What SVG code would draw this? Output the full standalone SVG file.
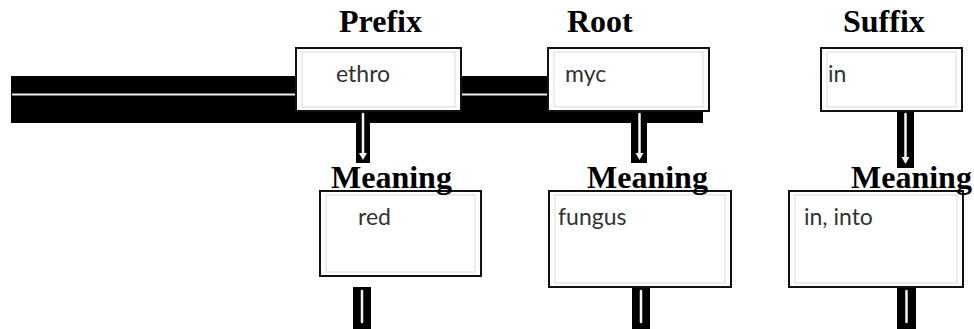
<svg xmlns="http://www.w3.org/2000/svg" width="974" height="329" viewBox="0 0 974 329">
  <style>
    .head { font-family: "Liberation Serif", "Times New Roman", serif; font-weight: bold; font-size: 32px; fill: #000; }
    .word { font-family: Lato, "Liberation Sans", sans-serif; font-size: 23px; fill: #333; }
    .box { fill: #fff; stroke: #111; stroke-width: 2; }
    .inner { fill: none; stroke: #e6e6e6; stroke-width: 1.5; }
    .shaft { fill: #000; }
    .line { stroke: #f4f4f4; stroke-width: 2.5; stroke-linecap: round; }
    .tip { fill: #f4f4f4; }
  </style>

  <!-- dark band behind the top row -->
  <g id="band">
    <rect x="11" y="76" width="692" height="47" fill="#000"/>
    <line x1="12" y1="94.5" x2="548" y2="94.5" stroke="#f0f0f0" stroke-width="2"/>
  </g>

  <!-- column headings -->
  <g id="headings">
    <text class="head" x="339" y="32">Prefix</text>
    <text class="head" x="567" y="32">Root</text>
    <text class="head" x="843" y="32">Suffix</text>
  </g>

  <!-- down arrows -->
  <g id="connectors">
    <g>
      <rect class="shaft" x="356" y="111" width="14" height="52"/>
      <line class="line" x1="363" y1="114" x2="363" y2="154"/>
      <path class="tip" d="M359 153 L367 153 L363 160 Z"/>
    </g>
    <g>
      <rect class="shaft" x="631" y="111" width="16" height="52"/>
      <line class="line" x1="639.5" y1="114" x2="639.5" y2="154"/>
      <path class="tip" d="M635.5 153 L643.5 153 L639.5 160 Z"/>
    </g>
    <g>
      <rect class="shaft" x="897" y="111" width="17" height="57"/>
      <line class="line" x1="905.5" y1="114" x2="905.5" y2="158"/>
      <path class="tip" d="M901.5 157 L909.5 157 L905.5 164 Z"/>
    </g>
    <g>
      <rect class="shaft" x="353" y="287" width="18" height="42"/>
      <line class="line" x1="362" y1="291" x2="362" y2="322"/>
    </g>
    <g>
      <rect class="shaft" x="632" y="287" width="18" height="42"/>
      <line class="line" x1="641" y1="291" x2="641" y2="322"/>
    </g>
    <g>
      <rect class="shaft" x="897" y="287" width="19" height="42"/>
      <line class="line" x1="906.5" y1="291" x2="906.5" y2="322"/>
    </g>
  </g>

  <!-- top row: word parts -->
  <g id="prefix">
    <rect class="box" x="296" y="48" width="165" height="63"/>
    <rect class="inner" x="302" y="52" width="153" height="55"/>
    <text class="word" x="336" y="82">ethro</text>
  </g>
  <g id="root">
    <rect class="box" x="548" y="48" width="161" height="63"/>
    <rect class="inner" x="554" y="52" width="149" height="55"/>
    <text class="word" x="565" y="82">myc</text>
  </g>
  <g id="suffix">
    <rect class="box" x="821" y="48" width="141" height="63"/>
    <rect class="inner" x="827" y="52" width="129" height="55"/>
    <text class="word" x="828" y="82">in</text>
  </g>

  <!-- bottom row: meanings -->
  <g id="meaning-prefix">
    <rect class="box" x="320" y="191" width="161" height="85"/>
    <rect class="inner" x="326" y="195" width="149" height="77"/>
    <text class="word" x="358" y="225">red</text>
    <text class="head" x="331" y="188">Meaning</text>
  </g>
  <g id="meaning-root">
    <rect class="box" x="549" y="191" width="182" height="96"/>
    <rect class="inner" x="555" y="195" width="170" height="88"/>
    <text class="word" x="558" y="225">fungus</text>
    <text class="head" x="587" y="188">Meaning</text>
  </g>
  <g id="meaning-suffix">
    <rect class="box" x="789" y="191" width="174" height="96"/>
    <rect class="inner" x="795" y="195" width="162" height="88"/>
    <text class="word" x="804" y="225">in, into</text>
    <text class="head" x="851" y="188">Meaning</text>
  </g>
</svg>
